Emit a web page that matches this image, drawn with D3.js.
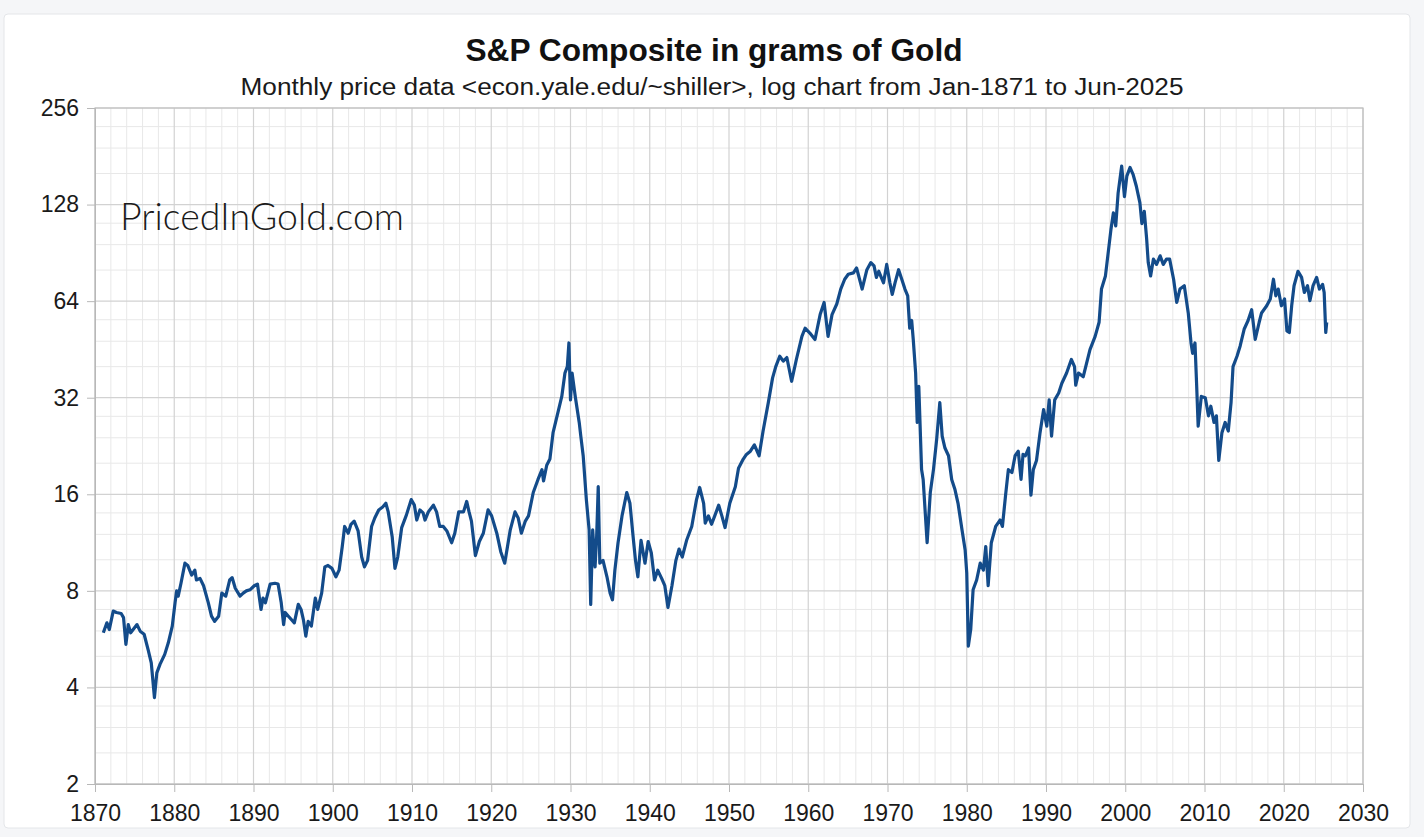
<!DOCTYPE html>
<html>
<head>
<meta charset="utf-8">
<script src="https://cdn.jsdelivr.net/npm/d3@7"></script>
<style>
  body { margin: 0; background: #f5f6f8; }
  svg { display: block; }
</style>
</head>
<body>
<svg id="chart" width="1424" height="837"></svg>
<script>
// S&P composite priced in grams of gold (decimal year, value)
const years = [
  1871.05, 1871.5, 1871.8, 1872.3, 1872.7, 1873.3, 1873.6, 1873.9, 1874.2, 1874.5,
  1875.3, 1875.7, 1876.2, 1876.7, 1877.1, 1877.5, 1877.8, 1878.2, 1878.8, 1879.25,
  1879.75, 1880.1, 1880.3, 1880.5, 1880.85, 1881.35, 1881.7, 1882.2, 1882.6, 1882.8,
  1883.25, 1883.7, 1884.3, 1884.7, 1885.1, 1885.6, 1886.0, 1886.5, 1887.0, 1887.3,
  1887.7, 1888.3, 1888.7, 1889.1, 1889.55, 1890.1, 1890.5, 1890.95, 1891.2, 1891.5,
  1892.1, 1892.7, 1893.1, 1893.5, 1893.8, 1894.0, 1894.4, 1894.8, 1895.15, 1895.65,
  1896.0, 1896.3, 1896.6, 1896.9, 1897.3, 1897.8, 1898.1, 1898.6, 1899.0, 1899.4,
  1899.9, 1900.4, 1900.8, 1901.2, 1901.5, 1901.95, 1902.3, 1902.7, 1903.2, 1903.65,
  1904.0, 1904.4, 1904.9, 1905.3, 1905.8, 1906.3, 1906.7, 1907.0, 1907.5, 1907.85,
  1908.2, 1908.7, 1909.3, 1909.9, 1910.3, 1910.6, 1911.0, 1911.4, 1911.64, 1912.06,
  1912.7, 1913.1, 1913.5, 1913.95, 1914.4, 1915.0, 1915.4, 1915.9, 1916.5, 1916.9,
  1917.2, 1917.5, 1918.0, 1918.5, 1919.0, 1919.6, 1920.05, 1920.7, 1921.2, 1921.7,
  1922.4, 1923.0, 1923.4, 1923.8, 1924.3, 1924.7, 1925.3, 1925.9, 1926.4, 1926.6,
  1927.0, 1927.4, 1927.8, 1928.5, 1928.9, 1929.3, 1929.6, 1929.8, 1930.0, 1930.2,
  1930.6, 1931.1, 1931.3, 1931.6, 1932.0, 1932.35, 1932.55, 1932.8, 1933.1, 1933.3,
  1933.5, 1933.7, 1934.1, 1934.6, 1935.0, 1935.3, 1935.6, 1936.0, 1936.5, 1937.1,
  1937.5, 1937.9, 1938.2, 1938.5, 1938.9, 1939.4, 1939.8, 1940.2, 1940.6, 1941.0,
  1941.5, 1941.9, 1942.3, 1942.8, 1943.3, 1943.7, 1944.1, 1944.65, 1945.3, 1945.9,
  1946.3, 1946.8, 1947.0, 1947.4, 1947.8, 1948.2, 1948.7, 1949.1, 1949.5, 1950.1,
  1950.8, 1951.2, 1951.8, 1952.2, 1952.7, 1953.2, 1953.8, 1954.3, 1954.96, 1955.5,
  1955.9, 1956.4, 1956.85, 1957.3, 1957.9, 1958.5, 1959.2, 1959.6, 1960.2, 1960.85,
  1961.5, 1962.0, 1962.5, 1963.0, 1963.6, 1964.1, 1964.6, 1965.05, 1965.7, 1966.1,
  1966.8, 1967.4, 1967.9, 1968.3, 1968.6, 1968.9, 1969.5, 1969.9, 1970.3, 1970.6,
  1970.95, 1971.4, 1971.8, 1972.2, 1972.55, 1972.8, 1973.05, 1973.25, 1973.55, 1973.75,
  1973.95, 1974.3, 1974.5, 1975.0, 1975.4, 1975.8, 1976.2, 1976.6, 1976.9, 1977.25,
  1977.7, 1978.1, 1978.5, 1978.9, 1979.4, 1979.8, 1980.0, 1980.2, 1980.5, 1980.8,
  1981.25, 1981.7, 1982.1, 1982.4, 1982.7, 1983.1, 1983.65, 1984.2, 1984.5, 1984.9,
  1985.25, 1985.7, 1986.1, 1986.5, 1986.85, 1987.1, 1987.4, 1987.8, 1988.1, 1988.4,
  1988.8, 1989.25, 1989.7, 1990.1, 1990.4, 1990.7, 1991.1, 1991.6, 1992.0, 1992.6,
  1993.2, 1993.6, 1993.75, 1994.1, 1994.7, 1995.55, 1996.2, 1996.7, 1997.0, 1997.5,
  1997.8, 1998.2, 1998.5, 1998.8, 1999.1, 1999.55, 1999.9, 2000.2, 2000.6, 2001.0,
  2001.4, 2001.85, 2002.1, 2002.4, 2002.7, 2002.9, 2003.2, 2003.55, 2003.95, 2004.4,
  2004.8, 2005.2, 2005.6, 2006.1, 2006.5, 2006.9, 2007.45, 2007.95, 2008.3, 2008.5,
  2008.8, 2009.0, 2009.2, 2009.6, 2010.1, 2010.5, 2010.8, 2011.2, 2011.5, 2011.8,
  2012.2, 2012.6, 2013.0, 2013.35, 2013.6, 2014.1, 2014.5, 2015.0, 2015.5, 2015.95,
  2016.4, 2016.9, 2017.2, 2017.85, 2018.3, 2018.7, 2019.0, 2019.3, 2019.7, 2020.1,
  2020.4, 2020.7, 2021.0, 2021.3, 2021.8, 2022.25, 2022.6, 2023.0, 2023.3, 2023.7,
  2024.15, 2024.5, 2024.9, 2025.1, 2025.3, 2025.42
];
const values = [
  5.92, 6.36, 6.06, 6.92, 6.85, 6.8, 6.6, 5.45, 6.28, 5.92,
  6.28, 5.99, 5.86, 5.25, 4.77, 3.72, 4.44, 4.72, 5.07, 5.51,
  6.21, 7.34, 8.0, 7.7, 8.45, 9.76, 9.6, 8.96, 9.28, 8.65,
  8.75, 8.3, 7.34, 6.67, 6.43, 6.67, 7.87, 7.7, 8.65, 8.8,
  8.15, 7.7, 7.87, 8.0, 8.06, 8.3, 8.4, 7.0, 7.6, 7.34,
  8.4, 8.45, 8.4, 7.34, 6.28, 6.85, 6.67, 6.5, 6.36, 7.26,
  7.0, 6.5, 5.78, 6.43, 6.21, 7.6, 7.0, 7.87, 9.5, 9.6,
  9.4, 8.85, 9.28, 11.0, 12.7, 12.1, 12.9, 13.2, 12.3, 10.2,
  9.5, 9.96, 12.7, 13.5, 14.3, 14.6, 15.0, 14.1, 11.8, 9.4,
  10.2, 12.6, 13.8, 15.4, 14.8, 13.3, 14.3, 14.0, 13.3, 14.1,
  14.8, 14.1, 12.7, 12.7, 12.3, 11.3, 12.1, 14.1, 14.1, 15.2,
  14.1, 13.2, 10.3, 11.4, 12.1, 14.3, 13.7, 12.1, 10.6, 9.76,
  12.4, 14.1, 13.5, 12.1, 13.2, 13.7, 16.2, 17.8, 19.1, 17.6,
  19.7, 20.6, 24.9, 29.4, 32.3, 38.2, 40.0, 47.4, 31.5, 38.2,
  32.3, 26.8, 24.3, 21.1, 15.4, 12.4, 7.26, 12.4, 9.5, 11.8,
  16.9, 9.76, 9.96, 8.85, 7.87, 7.5, 9.28, 11.3, 13.7, 16.2,
  15.0, 11.8, 9.96, 8.85, 11.5, 9.76, 11.4, 10.5, 8.65, 9.28,
  8.75, 8.3, 7.1, 8.3, 9.96, 10.8, 10.2, 11.5, 12.7, 15.4,
  16.8, 15.0, 13.0, 13.7, 12.9, 13.7, 14.8, 13.7, 12.6, 15.0,
  16.9, 19.3, 20.6, 21.3, 21.8, 22.8, 21.1, 25.2, 30.9, 36.9,
  40.0, 43.1, 41.6, 42.7, 36.0, 42.1, 49.7, 52.7, 50.9, 48.6,
  58.1, 63.4, 49.7, 58.1, 62.7, 69.8, 74.9, 77.6, 78.4, 81.2,
  69.8, 80.2, 84.4, 82.4, 75.9, 79.3, 73.0, 83.3, 73.0, 67.2,
  73.0, 80.2, 74.9, 69.8, 66.5, 52.7, 55.7, 48.6, 38.2, 26.8,
  34.7, 19.1, 17.8, 11.3, 16.2, 19.1, 23.7, 30.9, 24.3, 22.3,
  21.1, 17.8, 16.6, 15.0, 12.4, 10.7, 9.1, 5.38, 6.06, 8.06,
  8.65, 9.76, 9.28, 11.0, 8.3, 11.3, 12.7, 13.3, 12.7, 15.9,
  19.1, 18.7, 21.1, 21.8, 17.8, 21.3, 21.1, 22.3, 15.9, 19.1,
  20.4, 24.9, 29.4, 26.1, 31.5, 24.3, 31.5, 33.1, 35.5, 38.2,
  42.1, 40.0, 35.0, 38.2, 37.2, 45.2, 49.7, 55.0, 69.8, 76.7,
  88.6, 107.3, 120.6, 109.8, 139, 168.8, 135.5, 157, 167, 158.6,
  146, 129.5, 111.7, 122, 100, 84.4, 76.7, 86.5, 83.3, 88.6,
  83.3, 86.5, 86.5, 74.9, 63.4, 69.8, 71.5, 58.8, 47.4, 44.0,
  47.4, 35.5, 26.1, 32.3, 32.0, 28.1, 30.1, 26.8, 28.1, 20.4,
  24.9, 26.8, 25.2, 30.9, 40.0, 43.1, 46.4, 52.3, 55.7, 60.2,
  48.6, 55.0, 58.8, 61.9, 65, 74.9, 66.5, 69.8, 61.9, 65,
  51.7, 51.1, 61.9, 71.5, 79.3, 75.9, 68.1, 71.5, 64.2, 71.5,
  75.9, 69.8, 72.2, 68.1, 51.1, 55.0
];

const xTicks = [1870, 1880, 1890, 1900, 1910, 1920, 1930, 1940, 1950, 1960,
                1970, 1980, 1990, 2000, 2010, 2020, 2030];
const yTicks = [2, 4, 8, 16, 32, 64, 128, 256];
const yMinorSteps = [1.25, 1.5, 1.75];

const title = "S&P Composite in grams of Gold";
const subtitle = "Monthly price data <econ.yale.edu/~shiller>, log chart from Jan-1871 to Jun-2025";

const svg = d3.select("#chart");
const plotL = 95, plotR = 1363, plotT = 108, plotB = 784;

const x = d3.scaleLinear().domain([1870, 2030]).range([plotL, plotR]);
const y = d3.scaleLog().base(2).domain([2, 256]).range([plotB, plotT]);

// card behind the chart
svg.append("rect")
  .attr("x", 4).attr("y", 14).attr("width", 1406).attr("height", 814)
  .attr("rx", 4)
  .attr("fill", "#fff").attr("stroke", "#e4e6e9");

svg.append("text")
  .attr("x", 714).attr("y", 61)
  .attr("text-anchor", "middle")
  .attr("textLength", 497).attr("lengthAdjust", "spacingAndGlyphs")
  .style("font", "bold 31px 'Liberation Sans', Arial, sans-serif")
  .attr("fill", "#111")
  .text(title);

svg.append("text")
  .attr("x", 712).attr("y", 95)
  .attr("text-anchor", "middle")
  .attr("textLength", 943).attr("lengthAdjust", "spacingAndGlyphs")
  .style("font", "23.5px 'Liberation Sans', Arial, sans-serif")
  .attr("fill", "#1a1a1a")
  .text(subtitle);

// grid
const grid = svg.append("g");
const xMinor = d3.range(1870, 2031, 2).filter(d => d % 10 !== 0);
grid.selectAll(".xm").data(xMinor).enter().append("line")
  .attr("x1", d => x(d)).attr("x2", d => x(d))
  .attr("y1", plotT).attr("y2", plotB)
  .attr("stroke", "#e8e8e8").attr("stroke-width", 1);

const yMinor = [];
yTicks.slice(0, -1).forEach(b => yMinorSteps.forEach(s => yMinor.push(b * s)));
grid.selectAll(".ym").data(yMinor).enter().append("line")
  .attr("x1", plotL).attr("x2", plotR)
  .attr("y1", d => y(d)).attr("y2", d => y(d))
  .attr("stroke", "#e8e8e8").attr("stroke-width", 1);

grid.selectAll(".xM").data(xTicks).enter().append("line")
  .attr("x1", d => x(d)).attr("x2", d => x(d))
  .attr("y1", plotT).attr("y2", plotB)
  .attr("stroke", "#d2d2d2").attr("stroke-width", 1.2);

grid.selectAll(".yM").data(yTicks).enter().append("line")
  .attr("x1", plotL).attr("x2", plotR)
  .attr("y1", d => y(d)).attr("y2", d => y(d))
  .attr("stroke", "#d2d2d2").attr("stroke-width", 1.2);

svg.append("rect")
  .attr("x", plotL).attr("y", plotT)
  .attr("width", plotR - plotL).attr("height", plotB - plotT)
  .attr("fill", "none").attr("stroke", "#c0c0c0").attr("stroke-width", 1.2);

// axes
const yAxis = svg.append("g")
  .attr("transform", `translate(${plotL},0)`)
  .call(d3.axisLeft(y).tickValues(yTicks).tickFormat(d3.format("d")).tickSize(8).tickPadding(8));
const xAxis = svg.append("g")
  .attr("transform", `translate(0,${plotB})`)
  .call(d3.axisBottom(x).tickValues(xTicks).tickFormat(d3.format("d")).tickSize(8).tickPadding(13));

[yAxis, xAxis].forEach(g => {
  g.select(".domain").attr("stroke", "#b8b8b8");
  g.selectAll(".tick line").attr("stroke", "#b8b8b8");
  g.selectAll(".tick text")
    .attr("fill", "#1a1a1a")
    .style("font", "23px 'Liberation Sans', Arial, sans-serif");
});

// watermark
svg.append("text")
  .attr("x", 120).attr("y", 230)
  .attr("textLength", 284).attr("lengthAdjust", "spacingAndGlyphs")
  .style("font", "300 38px Lato, 'Open Sans', sans-serif")
  .attr("fill", "#1a1a1a")
  .text("PricedInGold.com");

// series
const points = d3.zip(years, values);
const line = d3.line()
  .x(d => x(d[0]))
  .y(d => y(d[1]));

svg.append("path")
  .datum(points)
  .attr("fill", "none")
  .attr("stroke", "#134b8a")
  .attr("stroke-width", 3.2)
  .attr("stroke-linejoin", "round")
  .attr("d", line);
</script>
</body>
</html>
